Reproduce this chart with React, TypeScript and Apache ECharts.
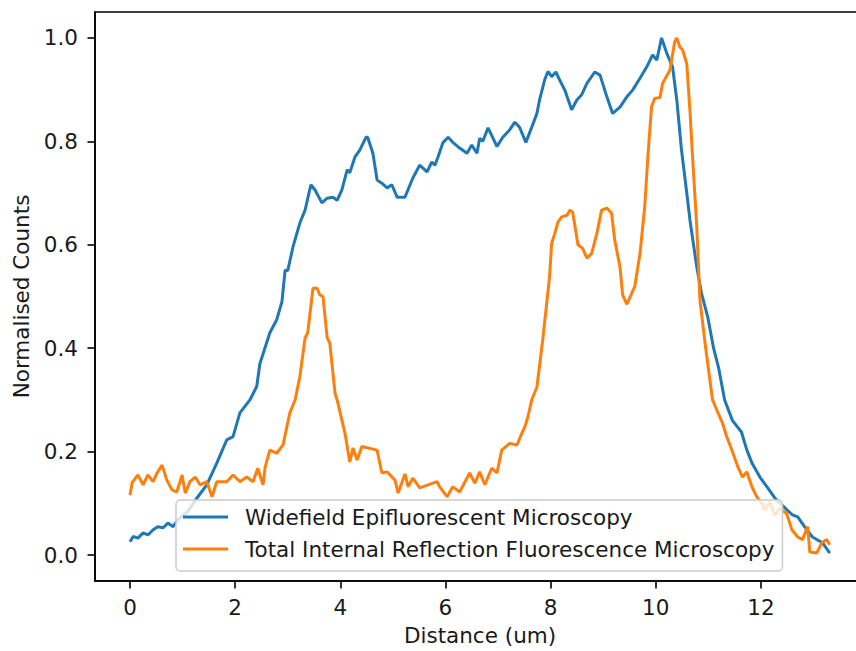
import React, { useEffect, useRef } from "react";
import * as echarts from "echarts";

// Widefield Epifluorescent Microscopy
const wfX = [0.0, 0.06, 0.15, 0.25, 0.34, 0.44, 0.53, 0.63, 0.72, 0.82, 0.91, 1.01, 1.08, 1.27, 1.46, 1.65, 1.84, 1.96, 2.09, 2.28, 2.41, 2.47, 2.66, 2.79, 2.89, 2.95, 3.0, 3.1, 3.23, 3.33, 3.44, 3.52, 3.65, 3.75, 3.86, 3.94, 4.03, 4.13, 4.18, 4.28, 4.37, 4.49, 4.52, 4.62, 4.7, 4.79, 4.89, 4.98, 5.08, 5.23, 5.38, 5.51, 5.65, 5.74, 5.8, 5.86, 5.95, 6.05, 6.14, 6.27, 6.41, 6.5, 6.6, 6.65, 6.71, 6.81, 6.98, 7.09, 7.22, 7.32, 7.41, 7.53, 7.64, 7.74, 7.79, 7.89, 7.95, 8.02, 8.1, 8.17, 8.27, 8.4, 8.5, 8.59, 8.69, 8.84, 8.94, 9.07, 9.18, 9.32, 9.45, 9.56, 9.7, 9.83, 9.94, 10.02, 10.11, 10.21, 10.32, 10.4, 10.49, 10.59, 10.65, 10.78, 10.87, 10.99, 11.1, 11.2, 11.31, 11.46, 11.63, 11.73, 11.83, 11.98, 12.13, 12.26, 12.49, 12.6, 12.7, 12.83, 12.98, 13.17, 13.31];
const wfY = [0.026, 0.036, 0.033, 0.043, 0.039, 0.049, 0.055, 0.053, 0.062, 0.055, 0.068, 0.078, 0.082, 0.11, 0.136, 0.178, 0.223, 0.229, 0.275, 0.3, 0.326, 0.37, 0.43, 0.455, 0.49, 0.551, 0.55, 0.596, 0.642, 0.667, 0.716, 0.706, 0.681, 0.69, 0.692, 0.686, 0.706, 0.745, 0.739, 0.77, 0.783, 0.808, 0.808, 0.777, 0.725, 0.719, 0.71, 0.716, 0.692, 0.692, 0.729, 0.754, 0.741, 0.76, 0.754, 0.77, 0.797, 0.808, 0.798, 0.787, 0.777, 0.793, 0.777, 0.806, 0.8, 0.826, 0.79, 0.808, 0.822, 0.837, 0.827, 0.798, 0.827, 0.854, 0.88, 0.92, 0.935, 0.925, 0.934, 0.919, 0.899, 0.861, 0.88, 0.89, 0.912, 0.934, 0.928, 0.886, 0.854, 0.866, 0.886, 0.899, 0.922, 0.944, 0.967, 0.957, 1.0, 0.97, 0.944, 0.88, 0.783, 0.7, 0.648, 0.557, 0.506, 0.46, 0.4, 0.36, 0.3, 0.26, 0.238, 0.204, 0.178, 0.151, 0.13, 0.111, 0.088, 0.078, 0.074, 0.055, 0.035, 0.024, 0.004];

// Total Internal Reflection Fluorescence Microscopy
const tirfX = [0.0, 0.04, 0.15, 0.25, 0.34, 0.44, 0.51, 0.61, 0.7, 0.8, 0.89, 0.99, 1.05, 1.14, 1.24, 1.33, 1.46, 1.56, 1.65, 1.84, 1.96, 2.09, 2.22, 2.34, 2.43, 2.53, 2.57, 2.66, 2.79, 2.91, 3.04, 3.14, 3.23, 3.33, 3.38, 3.48, 3.56, 3.61, 3.67, 3.75, 3.8, 3.9, 3.94, 4.09, 4.18, 4.24, 4.32, 4.41, 4.7, 4.79, 4.89, 5.04, 5.1, 5.23, 5.29, 5.38, 5.51, 5.84, 5.89, 6.03, 6.14, 6.27, 6.46, 6.56, 6.65, 6.75, 6.88, 6.98, 7.07, 7.22, 7.36, 7.45, 7.51, 7.57, 7.64, 7.74, 7.85, 7.98, 8.02, 8.08, 8.14, 8.21, 8.31, 8.37, 8.42, 8.52, 8.61, 8.69, 8.78, 8.88, 8.97, 9.07, 9.16, 9.22, 9.32, 9.37, 9.45, 9.6, 9.7, 9.79, 9.85, 9.92, 9.98, 10.08, 10.13, 10.27, 10.36, 10.4, 10.46, 10.51, 10.59, 10.65, 10.7, 10.78, 10.84, 10.95, 11.08, 11.16, 11.27, 11.35, 11.46, 11.56, 11.65, 11.73, 11.83, 11.92, 12.02, 12.07, 12.17, 12.26, 12.36, 12.49, 12.59, 12.7, 12.79, 12.89, 12.93, 13.06, 13.16, 13.25, 13.31];
const tirfY = [0.116, 0.14, 0.155, 0.136, 0.155, 0.142, 0.158, 0.174, 0.145, 0.126, 0.122, 0.155, 0.12, 0.142, 0.151, 0.136, 0.142, 0.113, 0.142, 0.142, 0.155, 0.142, 0.151, 0.142, 0.168, 0.136, 0.17, 0.203, 0.197, 0.213, 0.275, 0.3, 0.345, 0.42, 0.43, 0.516, 0.516, 0.503, 0.5, 0.42, 0.41, 0.313, 0.3, 0.235, 0.18, 0.207, 0.184, 0.21, 0.203, 0.159, 0.161, 0.145, 0.12, 0.157, 0.132, 0.149, 0.13, 0.142, 0.132, 0.113, 0.132, 0.122, 0.159, 0.139, 0.161, 0.136, 0.168, 0.159, 0.203, 0.216, 0.213, 0.235, 0.248, 0.268, 0.3, 0.325, 0.416, 0.538, 0.603, 0.622, 0.644, 0.654, 0.657, 0.667, 0.663, 0.6, 0.593, 0.574, 0.583, 0.622, 0.667, 0.671, 0.661, 0.609, 0.557, 0.503, 0.485, 0.519, 0.583, 0.673, 0.77, 0.867, 0.883, 0.885, 0.912, 0.938, 0.992, 1.0, 0.982, 0.977, 0.95, 0.86, 0.77, 0.635, 0.493, 0.4, 0.3, 0.281, 0.255, 0.229, 0.2, 0.171, 0.151, 0.161, 0.132, 0.113, 0.1, 0.087, 0.102, 0.077, 0.09, 0.08, 0.049, 0.035, 0.03, 0.055, 0.006, 0.004, 0.024, 0.03, 0.02];

const xTicks = [0, 2, 4, 6, 8, 10, 12];
const yTicks = [0, 0.2, 0.4, 0.6, 0.8, 1.0];
const seriesNames = ["Widefield Epifluorescent Microscopy", "Total Internal Reflection Fluorescence Microscopy"];
const seriesColors = ["#1f77b4", "#ff7f0e"];

const FONT = "DejaVu Sans";
const FS = 21.5;
const TXT = "#1a1a1a";

export default function App() {
  const ref = useRef<HTMLDivElement>(null);
  useEffect(() => {
    if (!ref.current) return;
    const chart = echarts.init(ref.current, null, { renderer: "svg" });
    const axisCommon = {
      type: "value" as const,
      splitLine: { show: false },
      axisLine: { show: true, onZero: false, lineStyle: { color: "#000", width: 1.6 } },
      axisTick: { show: true, length: 7.5, lineStyle: { color: "#000", width: 1.6 } },
      nameTextStyle: { fontFamily: FONT, fontSize: FS, color: TXT },
    };
    chart.setOption({
      animation: false,
      backgroundColor: "#fff",
      textStyle: { fontFamily: FONT },
      grid: {
        left: 95,
        top: 12,
        width: 770,
        height: 569,
        show: true,
        borderColor: "#000",
        borderWidth: 1.6,
        backgroundColor: "transparent",
      },
      xAxis: {
        ...axisCommon,
        min: -0.666,
        max: 13.98,
        name: "Distance (um)",
        nameLocation: "middle",
        nameGap: 43,
        axisTick: { ...axisCommon.axisTick, customValues: xTicks },
        axisLabel: {
          customValues: xTicks,
          margin: 15,
          fontFamily: FONT,
          fontSize: FS,
          color: TXT,
          formatter: (v: number) => String(v),
        },
      },
      yAxis: {
        ...axisCommon,
        min: -0.05,
        max: 1.05,
        name: "Normalised Counts",
        nameLocation: "middle",
        nameGap: 60,
        axisTick: { ...axisCommon.axisTick, customValues: yTicks },
        axisLabel: {
          customValues: yTicks,
          margin: 17,
          fontFamily: FONT,
          fontSize: FS,
          color: TXT,
          formatter: (v: number) => v.toFixed(1),
        },
      },
      legend: {
        orient: "vertical",
        left: 176,
        top: 500,
        padding: [6, 8, 11, 7],
        itemWidth: 45,
        itemHeight: 3,
        itemGap: 10,
        icon: "rect",
        backgroundColor: "rgba(255,255,255,0.8)",
        borderColor: "#cccccc",
        borderWidth: 1.5,
        borderRadius: 4,
        textStyle: { fontFamily: FONT, fontSize: FS, color: TXT, padding: [0, 0, 0, 12] },
        data: seriesNames.map((n, i) => ({ name: n, icon: "rect", itemStyle: { color: seriesColors[i] } })),
      },
      series: [
        {
          name: seriesNames[0],
          type: "line",
          symbol: "none",
          data: wfX.map((x, i) => [x, wfY[i]]),
          lineStyle: { color: seriesColors[0], width: 3 },
          itemStyle: { color: seriesColors[0] },
        },
        {
          name: seriesNames[1],
          type: "line",
          symbol: "none",
          data: tirfX.map((x, i) => [x, tirfY[i]]),
          lineStyle: { color: seriesColors[1], width: 3 },
          itemStyle: { color: seriesColors[1] },
        },
      ],
    });
    return () => chart.dispose();
  }, []);
  return (
    <div style={{ position: "fixed", left: 0, top: 0, width: 856, height: 651, overflow: "hidden", background: "#fff" }}>
      <div ref={ref} style={{ width: 880, height: 651 }} />
    </div>
  );
}
